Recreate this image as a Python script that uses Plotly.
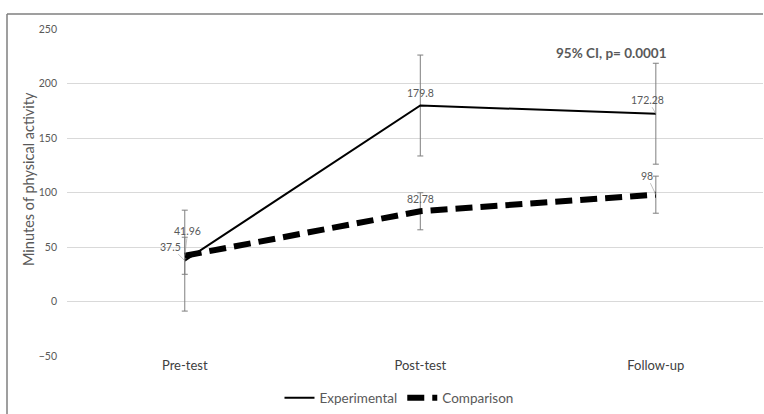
import plotly.graph_objects as go

categories = ["Pre-test", "Post-test", "Follow-up"]
experimental = [37.5, 179.8, 172.28]
comparison = [41.96, 82.78, 98]
exp_err = [46.3, 46.3, 46.3]
comp_err = [17.0, 17.0, 17.0]
yticks = [-50, 0, 50, 100, 150, 200, 250]

FONT = "Lato"
GRAY = "#595959"

fig = go.Figure()
fig.add_trace(go.Scatter(
    x=categories, y=experimental, mode="lines", name="Experimental",
    line=dict(color="black", width=2),
    error_y=dict(type="data", array=exp_err, color="#7f7f7f", thickness=1, width=3),
))
fig.add_trace(go.Scatter(
    x=categories, y=comparison, mode="lines", name="Comparison",
    line=dict(color="black", width=6, dash="17px,8px"),
    error_y=dict(type="data", array=comp_err, color="#7f7f7f", thickness=1, width=3),
))

LBL = dict(family=FONT, size=10.5, color=GRAY)
ann_style = dict(font=LBL, arrowhead=0, arrowwidth=0.7, arrowcolor="#a6a6a6",
                 standoff=0, startstandoff=0)
# data labels
fig.add_annotation(x=categories[0], y=comparison[0], text=f"{comparison[0]:g}",
                   showarrow=True, ax=3, ay=-25, **ann_style)
fig.add_annotation(x=categories[0], y=experimental[0], text=f"{experimental[0]:g}",
                   showarrow=True, ax=-14, ay=-14, **ann_style)
fig.add_annotation(x=categories[1], y=experimental[1], text=f"{experimental[1]:g}",
                   showarrow=False, yshift=13, font=LBL)
fig.add_annotation(x=categories[1], y=comparison[1], text=f"{comparison[1]:g}",
                   showarrow=False, yshift=12, font=LBL)
fig.add_annotation(x=categories[2], y=experimental[2], text=f"{experimental[2]:g}",
                   showarrow=True, ax=-8, ay=-14, **ann_style)
fig.add_annotation(x=categories[2], y=comparison[2], text=f"{comparison[2]:g}",
                   showarrow=True, ax=-9, ay=-19, **ann_style)

fig.add_annotation(x=(669 - 67) / 696, y=1 - (43 - 29) / 327, xref="paper", yref="paper",
                   text="<b>95% CI, p= 0.0001</b>",
                   showarrow=False, font=dict(family=FONT, size=13.5, color=GRAY))

# y-axis title
fig.add_annotation(x=(28 - 67) / 696, y=1 - (179 - 29) / 327, xref="paper", yref="paper",
                   xanchor="center", yanchor="middle",
                   text="Minutes of physical activity", textangle=-90, showarrow=False,
                   font=dict(family=FONT, size=14.5, color=GRAY))

# border lines (top & left)
fig.add_shape(type="line", xref="paper", yref="paper", x0=-60/696, x1=1, y0=1 + 15/327, y1=1 + 15/327,
              line=dict(color="#7f7f7f", width=1.5))
fig.add_shape(type="line", xref="paper", yref="paper", x0=-60/696, x1=-60/696, y0=1 + 15/327, y1=-58/327,
              line=dict(color="#7f7f7f", width=1.5))

fig.update_layout(
    width=764, height=414,
    margin=dict(l=67, r=1, t=29, b=58, autoexpand=False),
    paper_bgcolor="white", plot_bgcolor="white",
    font=dict(family=FONT, color=GRAY),
    showlegend=True,
    legend=dict(orientation="h", x=0.477, xanchor="center", yref="container", y=16/414,
                yanchor="middle", font=dict(family=FONT, size=13.5, color=GRAY)),
    xaxis=dict(range=[-0.5, 2.455], showgrid=False, showline=False, ticks="",
               tickfont=dict(family=FONT, size=13, color="#404040")),
    yaxis=dict(range=[-50, 250], tickvals=yticks, showgrid=True, gridcolor="#d9d9d9",
               zeroline=True, zerolinecolor="#d9d9d9", zerolinewidth=1,
               tickfont=dict(family=FONT, size=10.5, color=GRAY), ticklabelstandoff=9),
)

fig.write_html("out.html")
